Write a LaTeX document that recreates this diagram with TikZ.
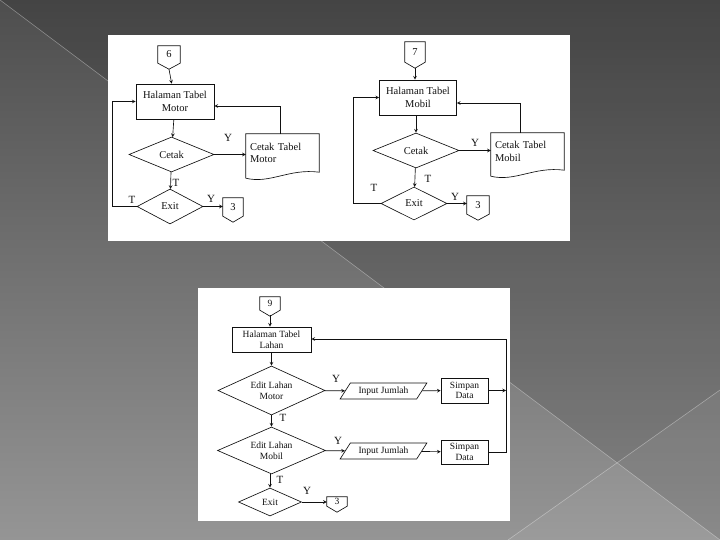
\documentclass[tikz,border=0pt]{standalone}
\usepackage{fontspec}
\setmainfont{Liberation Serif}
\usepackage{tikz}
\usetikzlibrary{positioning,shapes.geometric,arrows,calc}
\definecolor{bgtop}{HTML}{4E4E4E}
\definecolor{bgbot}{HTML}{959595}
\definecolor{ink}{HTML}{111111}
\tikzset{
  >=stealth,
  every node/.style={font=\fontsize{10.5}{12.5}\selectfont, text=ink},
  % --- nodes
  ln/.style    = {line width=0.65pt, draw=ink},
  proc/.style  = {rectangle, ln, align=center, inner sep=1pt},
  decis/.style = {diamond, ln, align=center, inner sep=0pt, aspect=2.2},
  doc/.style   = {rectangle, align=left, inner sep=4pt, text width=65pt},
  io/.style    = {trapezium, trapezium left angle=53, trapezium right angle=127,
                  trapezium stretches=true, ln, inner sep=1pt},
  opg/.style   = {rectangle, inner sep=0pt},
  lbl/.style   = {inner sep=0pt, font=\fontsize{11}{12}\selectfont},
  % --- edges
  e/.style     = {->, ln},
}
% off-page connector: name, x, y, width, height, text
\newcommand{\offpg}[6]{%
  \node[opg, minimum width=#4, minimum height=#5] (#1) at (#2,#3) {#6};
  \draw[ln] (#1.north west) -- (#1.north east) -- (#1.south east)
    -- ([yshift=-6pt]#1.south) -- (#1.south west) -- cycle;}
% document: name, x, y, width, height, text
\newcommand{\docu}[6]{%
  \node[doc, minimum width=#4, minimum height=#5] (#1) at (#2,#3) {#6};
  \draw[ln] ([yshift=-6pt]#1.south west) -- (#1.north west) -- (#1.north east)
    -- (#1.south east) .. controls ([xshift=-30pt,yshift=4pt]#1.south east)
    and ([xshift=24pt,yshift=-12pt]#1.south west) .. ([yshift=-6pt]#1.south west);}

\begin{document}
\begin{tikzpicture}[x=1pt,y=-1pt]
  \useasboundingbox (0,0) rectangle (720,540);
  % background + panels
  \shade[top color=bgtop, bottom color=bgbot] (0,0) rectangle (720,540);
  \fill[black, opacity=0.12] (0,0) -- (720,0) -- (720,540) -- cycle;
  \fill[white, opacity=0.06] (508,540) -- (720,390) -- (720,540) -- cycle;
  \draw[white, opacity=0.35, line width=0.6pt] (0,0) -- (720,540);
  \draw[white, opacity=0.35, line width=0.6pt] (720,390) -- (508,540);
  \fill[white] (108,35) rectangle (570,241);
  \fill[white] (198,288) rectangle (510,521);

  % --- Tabel Motor
  \offpg{c6}{169}{54.5}{22}{17}{6}
  \node[proc, minimum width=78, minimum height=35] (hm) at (175,101.5) {Halaman Tabel\\Motor};
  \node[decis, minimum width=85, minimum height=35] (ck) at (171.5,154.5) {Cetak};
  \docu{ctm}{282.5}{153}{73}{38}{Cetak Tabel\\Motor}
  \node[decis, minimum width=66, minimum height=35] (ex) at (170,206.5) {Exit};
  \offpg{c3a}{233}{207}{20}{18}{3}

  \draw[e] ([yshift=-6pt]c6.south) -- (hm);
  \draw[e] (hm) -- (ck);
  \draw[e] (ck.east) -- (ck.east -| ctm.west);
  \draw[e] ([xshift=-2pt]ctm.north) |- ([yshift=-4.5pt]hm.east);
  \draw[e] (ck) -- (ex);
  \draw[e] (ex.east) -- (ex.east -| c3a.west);
  \draw[e] (ex.west) -- ++(-24,0) |- (hm.west);
  \node[lbl] at (228,138) {Y};
  \node[lbl] at (176,183) {T};
  \node[lbl] at (132,200) {T};
  \node[lbl] at (211,199) {Y};

  % --- Tabel Mobil
  \offpg{c7}{415}{52}{20}{20}{7}
  \node[proc, minimum width=77, minimum height=35] (hb) at (418,97.5) {Halaman Tabel\\Mobil};
  \node[decis, minimum width=86, minimum height=35] (cb) at (416,150.5) {Cetak};
  \docu{ctb}{527.5}{151.5}{73}{37}{Cetak Tabel\\Mobil}
  \node[decis, minimum width=66, minimum height=33] (eb) at (414,203.5) {Exit};
  \offpg{c3b}{478}{205}{22}{18}{3}

  \draw[e] ([yshift=-6pt]c7.south) -- (c7.south |- hb.north);
  \draw[e] (hb.south -| cb) -- (cb);
  \draw[e] (cb.east) -- (cb.east -| ctb.west);
  \draw[e] ([xshift=-7pt]ctb.north) |- ([yshift=-5.5pt]hb.east);
  \draw[e] (cb) -- (eb);
  \draw[e] (eb.east) -- (eb.east -| c3b.west);
  \draw[e] (eb.west) -- ++(-27,0) |- (hb.west);
  \node[lbl] at (475,143) {Y};
  \node[lbl] at (428,179) {T};
  \node[lbl] at (374,188) {T};
  \node[lbl] at (455,197) {Y};

  % --- Tabel Lahan
  \begin{scope}[every node/.append style={font=\fontsize{9.5}{10.5}\selectfont}]
  \offpg{c9}{270}{303.5}{20}{13}{9}
  \node[proc, minimum width=79, minimum height=25] (hl) at (271.5,339.5) {Halaman Tabel\\Lahan};
  \node[decis, minimum width=107, minimum height=49] (d1) at (271.5,390.5) {Edit Lahan\\Motor};
  \node[io, minimum width=87, minimum height=16] (in1) at (383.5,391) {Input Jumlah};
  \node[proc, minimum width=47, minimum height=25] (sd1) at (464.5,390.5) {Simpan\\Data};
  \node[decis, minimum width=108, minimum height=47] (d2) at (271.5,450.5) {Edit Lahan\\Mobil};
  \node[io, minimum width=87, minimum height=16] (in2) at (383.5,451) {Input Jumlah};
  \node[proc, minimum width=47, minimum height=24] (sd2) at (464.5,452) {Simpan\\Data};
  \node[decis, minimum width=63, minimum height=28] (ex9) at (270,502) {Exit};
  \offpg{c3c}{337}{501.5}{20}{9}{3}
  \coordinate (lp) at (506,339);

  \draw[e] ([yshift=-5pt]c9.south) -- (c9.south |- hl.north);
  \draw[e] (hl) -- (d1);
  \draw[e] (d1) -- (in1);
  \draw[e] (in1) -- (sd1);
  \draw[e] (sd1.east) -- (sd1.east -| lp);
  \draw[e] (sd2.east) -| (lp) -- (lp -| hl.east);
  \draw[e] (d1) -- (d2);
  \draw[e] (d2) -- (in2);
  \draw[e] (in2) -- (sd2);
  \draw[e] (d2.south -| ex9) -- (ex9);
  \draw[e] (ex9.east) -- (ex9.east -| c3c.west);
  \node[lbl] at (336,379) {Y};
  \node[lbl] at (283,418) {T};
  \node[lbl] at (338,441) {Y};
  \node[lbl] at (280,480) {T};
  \node[lbl] at (307,491) {Y};
  \end{scope}
\end{tikzpicture}
\end{document}
